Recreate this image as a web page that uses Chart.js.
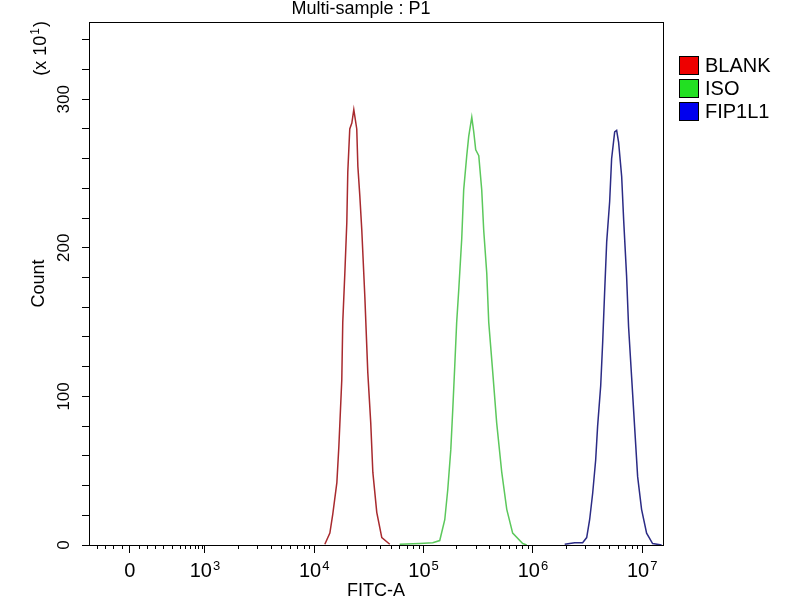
<!DOCTYPE html>
<html>
<head>
<meta charset="utf-8">
<script src="https://cdn.jsdelivr.net/npm/chart.js@4.4.1/dist/chart.umd.min.js"></script>
<style>
  html, body { margin: 0; padding: 0; background: #fff; }
  #wrap { width: 800px; height: 600px; }
</style>
</head>
<body>
<div id="wrap"><canvas id="histChart" width="800" height="600"></canvas></div>
<script>
// FITC-A positions are in decades on the display axis, counts are in units of 10
const blankX = [4.097, 4.143, 4.170, 4.207, 4.225, 4.252, 4.261, 4.280, 4.298, 4.307, 4.325, 4.344, 4.362,
                4.389, 4.399, 4.417, 4.435, 4.463, 4.490, 4.517, 4.536, 4.572, 4.618, 4.691];
const blankY = [0.5, 8, 21, 42, 66, 111, 150, 183, 217, 251, 280, 284, 293,
                280, 255, 235, 212, 167, 116, 82, 49, 22, 5, 0.5];

const isoX = [4.782, 4.965, 5.084, 5.148, 5.194, 5.221, 5.249, 5.267, 5.285, 5.303, 5.322, 5.349, 5.367, 5.395, 5.413, 5.441,
              5.459, 5.477, 5.505, 5.532, 5.550, 5.578, 5.596, 5.633, 5.669, 5.715, 5.761, 5.815, 5.907, 5.943];
const isoY = [0.5, 1, 1.5, 3, 17, 37, 64, 91, 120, 150, 172, 206, 239, 262, 275, 288,
              278, 266, 262, 239, 212, 183, 150, 116, 82, 49, 24, 8, 1, 0];

const fipX = [6.291, 6.382, 6.455, 6.492, 6.519, 6.547, 6.574, 6.592, 6.620, 6.638, 6.656, 6.675, 6.702, 6.720, 6.748, 6.766,
              6.784, 6.812, 6.830, 6.857, 6.875, 6.903, 6.930, 6.958, 6.994, 7.040, 7.095, 7.177];
const fipY = [0.5, 1.5, 1.5, 5, 17, 35, 57, 80, 107, 136, 170, 204, 231, 260, 278, 279,
              271, 248, 219, 181, 147, 113, 80, 46, 24, 8, 1, 0];

const seriesNames = ['BLANK', 'ISO', 'FIP1L1'];
const lineColors = ['#a82a2e', '#5cc85c', '#2b2b85'];
const boxColors = ['#ee0000', '#22e022', '#0000ee'];

// axis ticks: x labels are a base with an optional power
const xMajorPos = [2.314, 3, 4, 5, 6, 7];
const xMajorBase = ['0', '10', '10', '10', '10', '10'];
const xMajorExp = ['', '3', '4', '5', '6', '7'];
const xLinearMinor = [2.01, 2.09, 2.16, 2.24, 2.40, 2.47, 2.54, 2.62, 2.70, 2.77, 2.82, 2.86, 2.91, 2.94, 2.97];
const yTicks = [0, 20, 40, 60, 80, 100, 120, 140, 160, 180, 200, 220, 240, 260, 280, 300, 320, 340];

// minor ticks: linear part near zero plus 2..9 inside every decade
const xMinor = xLinearMinor.slice();
for (let n = 3; n <= 6; n++) {
    for (let k = 2; k <= 9; k++) xMinor.push(n + Math.log10(k));
}

const toPoints = (xs, ys) => xs.map((x, i) => ({ x: x, y: ys[i] }));

const FONT = '"Liberation Sans", Arial, sans-serif';
Chart.defaults.font.family = FONT;
Chart.defaults.color = '#000';

// draws base text with a raised smaller power, centred on cx
function drawPower(ctx, base, exp, cx, baseline, bigSize, smallSize, rise) {
    ctx.font = bigSize + 'px ' + FONT;
    const wb = ctx.measureText(base).width;
    ctx.font = smallSize + 'px ' + FONT;
    const we = exp ? ctx.measureText(exp).width + 1 : 0;
    const left = cx - (wb + we) / 2;
    ctx.textAlign = 'left';
    ctx.font = bigSize + 'px ' + FONT;
    ctx.fillText(base, left, baseline);
    if (exp) {
        ctx.font = smallSize + 'px ' + FONT;
        ctx.fillText(exp, left + wb + 1, baseline - rise);
    }
}

// frame, minor ticks, tick labels, title, multiplier and legend
const fcsDecor = {
    id: 'fcsDecor',
    afterDraw(chart) {
        const ctx = chart.ctx;
        const a = chart.chartArea;
        const x = chart.scales.x;
        ctx.save();
        ctx.strokeStyle = '#000';
        ctx.lineWidth = 1;
        ctx.strokeRect(Math.round(a.left) + 0.5, Math.round(a.top) + 0.5,
                       Math.round(a.right - a.left), Math.round(a.bottom - a.top));

        ctx.beginPath();
        xMinor.forEach(v => {
            const px = Math.round(x.getPixelForValue(v)) + 0.5;
            ctx.moveTo(px, a.bottom);
            ctx.lineTo(px, a.bottom + 4);
        });
        ctx.stroke();

        ctx.fillStyle = '#000';
        ctx.textBaseline = 'alphabetic';
        xMajorPos.forEach((v, i) => {
            drawPower(ctx, xMajorBase[i], xMajorExp[i], x.getPixelForValue(v), a.bottom + 32, 20, 13, 7);
        });

        ctx.font = '18px ' + FONT;
        ctx.textAlign = 'center';
        ctx.fillText('Multi-sample : P1', 361, 14);

        ctx.save();
        ctx.translate(46, 48);
        ctx.rotate(-Math.PI / 2);
        drawPower(ctx, '(x 10', '1', -4, 0, 18, 12, 7);
        ctx.font = '18px ' + FONT;
        ctx.textAlign = 'left';
        ctx.fillText(')', 21, 0);
        ctx.restore();

        ctx.font = '20px ' + FONT;
        ctx.textAlign = 'left';
        ctx.textBaseline = 'middle';
        seriesNames.forEach((name, i) => {
            const cy = 65 + i * 23;
            ctx.fillStyle = boxColors[i];
            ctx.fillRect(679, cy - 9, 19, 18);
            ctx.strokeStyle = '#000';
            ctx.strokeRect(679.5, cy - 8.5, 19, 18);
            ctx.fillStyle = '#000';
            ctx.fillText(name, 705, cy + 1);
        });
        ctx.restore();
    }
};

const histCtx = document.getElementById('histChart').getContext('2d');
new Chart(histCtx, {
    type: 'line',
    data: {
        datasets: [
            { label: seriesNames[0], data: toPoints(blankX, blankY), borderColor: lineColors[0] },
            { label: seriesNames[1], data: toPoints(isoX, isoY), borderColor: lineColors[1] },
            { label: seriesNames[2], data: toPoints(fipX, fipY), borderColor: lineColors[2] }
        ]
    },
    options: {
        responsive: false,
        animation: false,
        devicePixelRatio: 1,
        layout: { padding: { left: 24, top: 22, right: 137, bottom: 0 } },
        elements: {
            line: { borderWidth: 1.5, tension: 0, fill: false },
            point: { radius: 0 }
        },
        plugins: {
            legend: { display: false },
            tooltip: { enabled: false }
        },
        scales: {
            x: {
                type: 'linear',
                min: 1.94,
                max: 7.19,
                afterBuildTicks: s => { s.ticks = xMajorPos.map(v => ({ value: v })); },
                afterFit: s => { s.height = 55; },
                ticks: { autoSkip: false, maxRotation: 0, callback: () => '' },
                grid: { drawOnChartArea: false, tickLength: 8, tickColor: '#000' },
                border: { color: '#000', width: 1 },
                title: {
                    display: true, text: 'FITC-A', color: '#000',
                    font: { size: 18, lineHeight: 1 }, padding: { top: 0, bottom: 0 }
                }
            },
            y: {
                min: 0,
                max: 352,
                afterBuildTicks: s => { s.ticks = yTicks.map(v => ({ value: v })); },
                afterFit: s => { s.width = 65; },
                ticks: {
                    autoSkip: false,
                    minRotation: 90,
                    maxRotation: 90,
                    crossAlign: 'center',
                    padding: 4,
                    font: { size: 17 },
                    color: '#000',
                    callback: v => (v % 100 === 0 ? String(v) : '')
                },
                grid: { drawOnChartArea: false, tickLength: 7, tickColor: '#000' },
                border: { color: '#000', width: 1 },
                title: { display: true, text: 'Count', font: { size: 18 }, color: '#000', padding: { top: 4, bottom: 0 } }
            }
        }
    },
    plugins: [fcsDecor]
});
</script>
</body>
</html>
